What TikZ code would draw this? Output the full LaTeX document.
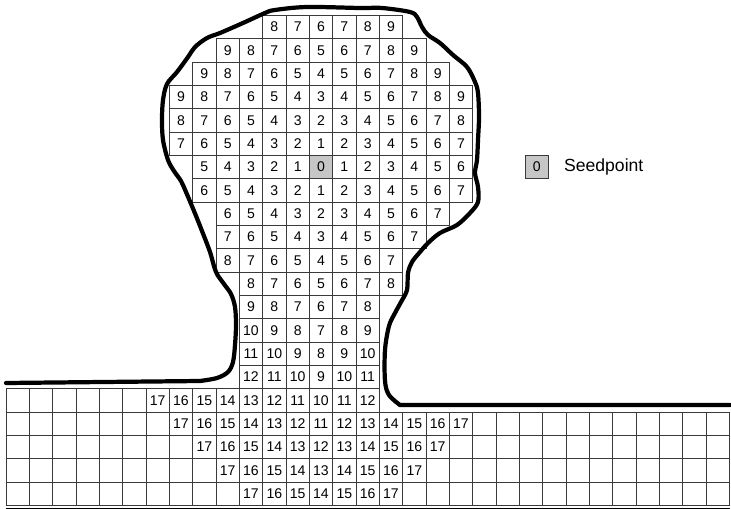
\documentclass[tikz,border=0pt]{standalone}
\usepackage{fontspec}
\setmainfont{Liberation Sans}
\usepackage{tikz}
\usetikzlibrary{positioning}
\definecolor{GridLine}{HTML}{3A3A3A}
\definecolor{SeedFill}{HTML}{C6C6C6}

\begin{document}
\begin{tikzpicture}[
    x=0.03cm, y=-0.03cm,
    cell/.style={draw=GridLine, line width=0.7pt, minimum size=0.7cm, inner sep=0pt,
      font=\fontsize{12}{12}\selectfont},
    seed/.style={cell, fill=SeedFill},
    outline/.style={line width=3.6pt, line cap=round, line join=round}
  ]
  \useasboundingbox (0,0) rectangle (731,509);

  % distance grid: row / first column / last column (seed cell is row 0, column 0)
  \foreach \r/\cfirst/\clast in {-6/-2/3, -5/-4/4, -4/-5/5, -3/-6/6, -2/-6/6, -1/-6/6,
      0/-5/6, 1/-5/6, 2/-4/5, 3/-4/4, 4/-4/3, 5/-3/3, 6/-3/2, 7/-3/2, 8/-3/2, 9/-3/2,
      10/-13/2, 11/-13/17, 12/-13/17, 13/-13/17, 14/-13/17} {
    \foreach \c in {\cfirst,...,\clast} {
      \pgfmathtruncatemacro{\dist}{abs(\r)+abs(\c)}
      \ifnum\dist>17 \def\lbl{}\else \let\lbl\dist\fi
      \ifnum\dist=0 \def\sty{seed}\else \def\sty{cell}\fi
      \node[\sty] (cell\r_\c) at ({309.33+23.333*(\c+0.5)}, {155.33+23.333*(\r+0.5)}) {\lbl};
    }
  }
  \draw[line width=1.3pt] ([yshift=-0.08cm]cell14_-13.south west) -- ([yshift=-0.08cm]cell14_17.south east);

  % region boundary
  \draw[outline] (6,383) -- plot[smooth, tension=0.55] coordinates {
      (200,381) (217,378) (228,372) (233,362) (235,345) (236,325) (235,307) (231,294)
      (224,284) (216,272) (210,252) (202,231) (194,211) (186,192) (181,181) (174,171)
      (168,160) (163,140) (162,120) (163,100) (167,84) (177,72) (188,57) (195,47)
      (207,38) (220,33) (243,23) (265,13) (275,10) (307,7) (360,8) (382,8) (410,12)
      (417,17) (422,27) (428,35) (440,43) (453,55) (467,67) (475,82) (478,93) (479,117)
      (478,140) (477,160) (475,173) (478,187) (478,202) (470,213) (457,225) (440,233)
      (428,243) (420,252) (412,262) (408,273) (407,290) (401,302) (395,313) (389,326)
      (385,350) (385,381) (389,395) (400,405)} -- (730,405);

  % legend
  \node[seed] (seedkey) at (536.7,166.7) {0};
  \node[right=0.42cm of seedkey, inner sep=1pt, font=\fontsize{15}{15}\selectfont] (seedtext) {Seedpoint};
\end{tikzpicture}
\end{document}
